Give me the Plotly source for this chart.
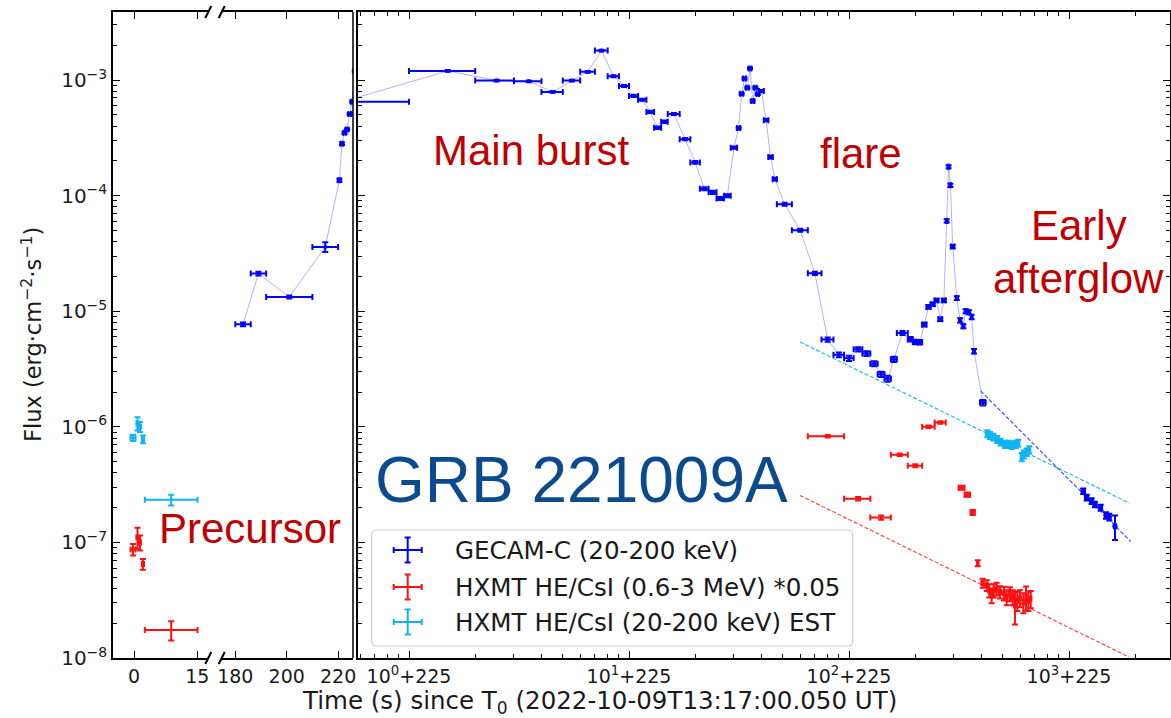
import plotly.graph_objects as go

W, H = 1171, 718

# ---------------------------------------------------------------- data
# GECAM-C (20-200 keV): bin start / stop (s since T0), energy flux, 1-sigma error
gecam_t_lo = [180, 186, 192, 210, 220, 221, 222, 223, 224, 225, 226, 227, 228, 229, 230,
              231, 232, 233, 234, 235, 236, 237, 238, 239, 240, 242, 244, 246, 248, 250,
              252, 254, 256, 257, 258, 259, 260, 261, 262, 263, 264, 266, 268, 270, 272,
              280, 290, 300, 310, 320, 330, 340, 350, 360, 370, 380, 390, 410, 420, 430,
              440, 450, 460, 470, 480, 490, 501, 506, 512, 516, 531, 542, 553, 561, 573,
              583, 592, 619]
gecam_t_hi = [186, 192, 210, 220, 221, 222, 223, 224, 225, 226, 227, 228, 229, 230, 231,
              232, 233, 234, 235, 236, 237, 238, 239, 240, 242, 244, 246, 248, 250, 252,
              254, 256, 257, 258, 259, 260, 261, 262, 263, 264, 266, 268, 270, 272, 280,
              290, 300, 310, 320, 330, 340, 350, 360, 370, 380, 390, 410, 420, 430, 440,
              450, 460, 470, 480, 490, 500, 505, 511, 516, 526, 537, 548, 559, 567, 579,
              589, 598, 643]
gecam_flux = [7.7e-6, 2.12e-5, 1.33e-5, 3.6e-5, 1.36e-4, 2.81e-4, 3.5e-4, 3.74e-4, 5.08e-4,
              6.5e-4, 1.2e-3, 9.9e-4, 9.75e-4, 7.9e-4, 9.9e-4, 1.18e-3, 1.8e-3, 1.08e-3,
              8.9e-4, 7.3e-4, 6.76e-4, 5.3e-4, 3.87e-4, 4.36e-4, 5.08e-4, 3.08e-4, 1.94e-4,
              1.15e-4, 1.07e-4, 9.46e-5, 1.0e-4, 2.6e-4, 3.84e-4, 7.6e-4, 1.03e-3, 8.6e-4,
              1.26e-3, 6.58e-4, 8.6e-4, 7.57e-4, 8.04e-4, 4.5e-4, 2.16e-4, 1.39e-4, 8.43e-5,
              5.02e-5, 2.13e-5, 5.69e-6, 4.2e-6, 3.92e-6, 4.69e-6, 4.3e-6, 3.52e-6, 2.85e-6,
              2.61e-6, 3.84e-6, 6.49e-6, 5.73e-6, 5.43e-6, 5.4e-6, 7.67e-6, 1.09e-5, 1.15e-5,
              1.24e-5, 8.53e-6, 1.24e-5, 6.05e-5, 1.78e-4, 1.23e-4, 3.63e-5, 1.3e-5, 8.36e-6,
              7.41e-6, 1.0e-5, 9.8e-6, 8.93e-6, 4.51e-6, 1.62e-6]
gecam_err = [3e-7, 8e-7, 4e-7, 3.5e-6, 4e-6, 7e-6, 8e-6, 8e-6, 1e-5,
             1.2e-5, 2e-5, 1.8e-5, 1.8e-5, 1.5e-5, 1.8e-5, 2e-5, 3e-5, 2e-5,
             1.7e-5, 1.5e-5, 1.4e-5, 1.2e-5, 1e-5, 1e-5, 1e-5, 7e-6, 5e-6,
             3.5e-6, 3.5e-6, 3e-6, 3e-6, 6e-6, 9e-6, 1.5e-5, 2e-5, 1.7e-5,
             2.2e-5, 1.4e-5, 1.7e-5, 1.5e-5, 1.5e-5, 1e-5, 6e-6, 4e-6, 2.5e-6,
             1.5e-6, 7e-7, 2.5e-7, 2e-7, 2e-7, 2e-7, 2e-7, 1.8e-7, 1.5e-7,
             1.5e-7, 2e-7, 2.5e-7, 2.5e-7, 2.5e-7, 2.5e-7, 3e-7, 4e-7, 4e-7,
             4e-7, 3e-7, 4e-7, 2e-6, 5e-6, 4e-6, 1.2e-6, 5e-7, 3.5e-7,
             3e-7, 4e-7, 4e-7, 4e-7, 2e-7, 9e-8]

# GECAM-C late afterglow segment
tail_t = [1386, 1428, 1492, 1537, 1618, 1698, 1750, 1843]
tail_terr = [20, 20, 20, 20, 20, 20, 20, 20]
tail_flux = [2.78e-7, 2.44e-7, 2.28e-7, 2.13e-7, 2.0e-7, 1.71e-7, 1.66e-7, 1.38e-7]
tail_err = [1.5e-8, 1.4e-8, 1.3e-8, 1.2e-8, 1.2e-8, 1.1e-8, 1.1e-8, 3.3e-8]

# HXMT HE/CsI (0.6-3 MeV) x 0.05
hxmt_hi_t_lo = [-0.85, 0.55, 1.15, 1.85, 2.55, 290, 320, 350, 380, 410, 440, 470, 540, 560,
                582, 607, 625, 643, 654, 665, 675, 689, 706, 726, 741, 759, 775, 788, 802,
                819, 840, 858, 873, 890]
hxmt_hi_t_hi = [0.35, 1.05, 1.65, 2.35, 15.05, 320, 350, 380, 410, 440, 470, 500, 560, 580,
                598, 613, 635, 653, 664, 675, 685, 699, 716, 736, 751, 769, 785, 798, 812,
                829, 850, 868, 883, 900]
hxmt_hi_flux = [8.7e-8, 1.11e-7, 1.0e-7, 6.5e-8, 1.75e-8, 8.28e-7, 2.39e-7, 1.64e-7, 5.74e-7,
                4.61e-7, 1.0e-6, 1.09e-6, 2.97e-7, 2.59e-7, 1.82e-7, 6.62e-8, 4.45e-8, 4.25e-8,
                3.84e-8, 3.47e-8, 3.84e-8, 3.97e-8, 3.72e-8, 3.64e-8, 3.36e-8, 3.6e-8, 3.36e-8,
                2.85e-8, 3.15e-8, 3.3e-8, 3.04e-8, 3.36e-8, 3.15e-8, 3.25e-8]
hxmt_hi_err = [1.0e-8, 2.3e-8, 1.5e-8, 7e-9, 3.3e-9, 2e-8, 8e-9, 7e-9, 1.5e-8,
               1.3e-8, 2.5e-8, 2.5e-8, 1.2e-8, 1.1e-8, 9e-9, 4e-9, 4e-9, 4.5e-9,
               5e-9, 5e-9, 5e-9, 5e-9, 4.5e-9, 5e-9, 5e-9, 5e-9, 5e-9,
               9e-9, 6e-9, 5.5e-9, 6e-9, 8e-9, 6e-9, 5.5e-9]

# HXMT HE/CsI (20-200 keV) estimate
hxmt_lo_t_lo = [-0.85, 0.55, 1.15, 1.85, 2.55, 643.5, 655.5, 671, 690, 707, 730, 748, 767,
                786, 806, 828, 842, 860, 878]
hxmt_lo_t_hi = [0.35, 1.05, 1.65, 2.35, 15.05, 657.5, 669.5, 685, 704, 721, 744, 762, 781,
                800, 820, 842, 856, 874, 892]
hxmt_lo_flux = [8.05e-7, 1.07e-6, 1.0e-6, 7.8e-7, 2.34e-7, 8.73e-7, 8.43e-7, 8.16e-7, 7.8e-7,
                7.39e-7, 7.06e-7, 7.06e-7, 6.92e-7, 7.06e-7, 7.24e-7, 5.48e-7, 5.78e-7,
                6.05e-7, 6.34e-7]
hxmt_lo_err = [5e-8, 1.4e-7, 1.0e-7, 6e-8, 2.5e-8, 6e-8, 6e-8, 5.5e-8, 5.5e-8,
               5e-8, 5e-8, 5e-8, 5e-8, 5e-8, 5e-8, 4.5e-8, 4.5e-8, 4.5e-8, 4.5e-8]

# power-law decay fits (end points)
fit_blue_t, fit_blue_f = [622, 2133], [2.04e-6, 1.02e-7]
fit_cyan_t, fit_cyan_f = [284.9, 2105], [5.42e-6, 2.19e-7]
fit_red_t, fit_red_f = [284.9, 2105], [2.55e-7, 1.016e-8]

T_SHIFT = 225.0  # origin of the logarithmic time axis

legend_labels = ["GECAM-C (20-200 keV)",
                 "HXMT HE/CsI (0.6-3 MeV) *0.05",
                 "HXMT HE/CsI (20-200 keV) EST"]

BLUE = "#0000ff"
RED = "#ff1010"
CYAN = "#10b4f4"

# ---------------------------------------------------------------- helpers
def px(x):
    return x / W


def py(y):
    return 1 - y / H


def binned(t_lo, t_hi, flux, err, color, xa, ya, shift=0.0, size=4):
    c = [(a + b) / 2 for a, b in zip(t_lo, t_hi)]
    return go.Scatter(
        x=[v - shift for v in c], y=flux, mode="markers", xaxis=xa, yaxis=ya,
        marker=dict(color=color, size=size, line=dict(width=0)),
        error_x=dict(type="data", symmetric=False,
                     array=[b - v for b, v in zip(t_hi, c)],
                     arrayminus=[v - a for a, v in zip(t_lo, c)],
                     color=color, thickness=2, width=3),
        error_y=dict(type="data", array=err, color=color, thickness=2, width=3),
        showlegend=False, hoverinfo="skip")


def joined(t_lo, t_hi, flux, xa, ya, shift=0.0):
    c = [(a + b) / 2 - shift for a, b in zip(t_lo, t_hi)]
    return go.Scatter(x=c, y=flux, mode="lines", xaxis=xa, yaxis=ya,
                      line=dict(color="rgba(40,40,255,0.45)", width=0.8),
                      showlegend=False, hoverinfo="skip")


def fit_line(t, f, color, xa, ya, shift=0.0):
    return go.Scatter(x=[v - shift for v in t], y=f, mode="lines", xaxis=xa, yaxis=ya,
                      line=dict(color=color, width=1.2, dash="4px,2px"),
                      showlegend=False, hoverinfo="skip")


tail_lo = [t - e for t, e in zip(tail_t, tail_terr)]
tail_hi = [t + e for t, e in zip(tail_t, tail_terr)]

fig = go.Figure()

# left panel (two linear pieces) and right panel (log of t - 225)
panels = [("x", "y", 0.0), ("x2", "y", 0.0), ("x3", "y2", T_SHIFT)]
for xa, ya, sh in panels:
    fig.add_trace(joined(gecam_t_lo, gecam_t_hi, gecam_flux, xa, ya, sh))
    fig.add_trace(joined(tail_lo, tail_hi, tail_flux, xa, ya, sh))
    if xa == "x3":
        fig.add_trace(fit_line(fit_cyan_t, fit_cyan_f, "rgba(16,180,244,0.9)", xa, ya, sh))
        fig.add_trace(fit_line(fit_red_t, fit_red_f, "rgba(255,40,40,0.85)", xa, ya, sh))
        fig.add_trace(fit_line(fit_blue_t, fit_blue_f, "rgba(40,40,230,0.8)", xa, ya, sh))
    fig.add_trace(binned(hxmt_lo_t_lo, hxmt_lo_t_hi, hxmt_lo_flux, hxmt_lo_err, CYAN, xa, ya, sh, 3))
    fig.add_trace(binned(hxmt_hi_t_lo, hxmt_hi_t_hi, hxmt_hi_flux, hxmt_hi_err, RED, xa, ya, sh, 3))
    fig.add_trace(binned(gecam_t_lo, gecam_t_hi, gecam_flux, gecam_err, BLUE, xa, ya, sh, 4))
    fig.add_trace(binned(tail_lo, tail_hi, tail_flux, tail_err, BLUE, xa, ya, sh, 5))

# ---------------------------------------------------------------- axes
TICK_FONT = dict(family="DejaVu Sans", size=19, color="#1a1a1a")
base = dict(showline=True, linecolor="black", linewidth=1.5, ticks="inside",
            tickcolor="black", tickwidth=1.2, ticklen=7, showgrid=False,
            zeroline=False, tickfont=TICK_FONT)
minor = dict(ticks="inside", ticklen=4, tickcolor="black", tickwidth=1,
             dtick="D1", showgrid=False)

y_top, y_bot = 12, 658
ydom = [py(y_bot), py(y_top)]
yrange = [-8, -2.411]
ytick_vals = [1e-8, 1e-7, 1e-6, 1e-5, 1e-4, 1e-3]
ytick_text = ["10<sup>\u22128</sup>", "10<sup>\u22127</sup>", "10<sup>\u22126</sup>",
              "10<sup>\u22125</sup>", "10<sup>\u22124</sup>", "10<sup>\u22123</sup>"]

fig.update_layout(
    width=W, height=H, autosize=False,
    margin=dict(l=0, r=0, t=0, b=0, pad=0, autoexpand=False),
    paper_bgcolor="white", plot_bgcolor="rgba(0,0,0,0)",
    showlegend=False,
    xaxis=dict(base, domain=[px(113), px(208.3)], range=[-5, 17.6], anchor="y",
               mirror="ticks", tickvals=[0, 15], ticktext=["0", "15"]),
    xaxis2=dict(base, domain=[px(221.7), px(353)], range=[174.7, 225.8], anchor="y",
                mirror="ticks", tickvals=[180, 200, 220], ticktext=["180", "200", "220"]),
    xaxis3=dict(base, type="log", domain=[px(358), px(1169.5)], range=[-0.2318, 3.4568],
                anchor="y2", mirror="ticks", tickvals=[1, 10, 100, 1000],
                ticktext=["10<sup>0</sup>+225", "10<sup>1</sup>+225",
                          "10<sup>2</sup>+225", "10<sup>3</sup>+225"],
                minor=minor),
    yaxis=dict(base, type="log", domain=ydom, range=yrange, anchor="x",
               tickvals=ytick_vals, ticktext=ytick_text,
               tickfont=dict(family="DejaVu Sans", size=20, color="#1a1a1a"),
               minor=minor),
    yaxis2=dict(base, type="log", domain=ydom, range=yrange, anchor="x3",
                mirror="ticks", showticklabels=False, tickvals=ytick_vals,
                minor=minor),
)

# ---------------------------------------------------------------- frame pieces
shapes = []
# right spine of the left panel
shapes.append(dict(type="line", xref="paper", yref="paper", x0=px(353), x1=px(353),
                   y0=py(y_bot), y1=py(y_top), line=dict(color="black", width=1.5)))
# broken-axis marks
for yy in (y_top, y_bot):
    for xx in (208.3, 221.7):
        shapes.append(dict(type="line", xref="paper", yref="paper",
                           x0=px(xx - 3), x1=px(xx + 3), y0=py(yy + 6), y1=py(yy - 6),
                           line=dict(color="black", width=2)))

# legend box with rounded corners
lx0, lx1, ly0, ly1, r = 371.7, 852.7, 530, 646, 5
rx, ry = r / W, r / H
path = (f"M {px(lx0)+rx},{py(ly0)} L {px(lx1)-rx},{py(ly0)} "
        f"Q {px(lx1)},{py(ly0)} {px(lx1)},{py(ly0)-ry} "
        f"L {px(lx1)},{py(ly1)+ry} Q {px(lx1)},{py(ly1)} {px(lx1)-rx},{py(ly1)} "
        f"L {px(lx0)+rx},{py(ly1)} Q {px(lx0)},{py(ly1)} {px(lx0)},{py(ly1)+ry} "
        f"L {px(lx0)},{py(ly0)-ry} Q {px(lx0)},{py(ly0)} {px(lx0)+rx},{py(ly0)} Z")
shapes.append(dict(type="path", xref="paper", yref="paper", path=path,
                   fillcolor="rgba(255,255,255,0.85)", line=dict(color="#cfcfcf", width=1.2)))

legend_rows = [550, 587, 622]
legend_colors = [BLUE, RED, CYAN]
cx, hw, hh, cap = 407.7, 14, 12.5, 3
for yc, col in zip(legend_rows, legend_colors):
    seg = [((cx - hw, yc), (cx + hw, yc)), ((cx, yc - hh), (cx, yc + hh)),
           ((cx - hw, yc - cap), (cx - hw, yc + cap)), ((cx + hw, yc - cap), (cx + hw, yc + cap)),
           ((cx - cap, yc - hh), (cx + cap, yc - hh)), ((cx - cap, yc + hh), (cx + cap, yc + hh))]
    for (a, b) in seg:
        shapes.append(dict(type="line", xref="paper", yref="paper",
                           x0=px(a[0]), y0=py(a[1]), x1=px(b[0]), y1=py(b[1]),
                           line=dict(color=col, width=2)))
fig.update_layout(shapes=shapes)

# ---------------------------------------------------------------- texts
ann = []


def txt(s, x, y, size, color, family="Liberation Sans, Arial, sans-serif",
        xanchor="center", angle=0):
    ann.append(dict(text=s, x=px(x), y=py(y), xref="paper", yref="paper",
                    showarrow=False, xanchor=xanchor, yanchor="middle", textangle=angle,
                    font=dict(family=family, size=size, color=color)))


txt("Flux (erg\u00b7cm<sup>\u22122</sup>\u00b7s<sup>\u22121</sup>)", 31, 335, 22.5, "#1a1a1a",
    family="DejaVu Sans", angle=-90)
txt("Time (s) since T<sub>0</sub> (2022-10-09T13:17:00.050 UT)", 599, 701.5, 24.5, "#1a1a1a",
    family="DejaVu Sans")

DARK_RED = "#c00000"
txt("Main burst", 530.5, 151, 42, DARK_RED)
txt("flare", 861, 153.4, 42, DARK_RED)
txt("Early", 1079, 225.4, 42, DARK_RED)
txt("afterglow", 1078, 278.1, 42, DARK_RED)
txt("Precursor", 249.5, 528.7, 42, DARK_RED)
txt("GRB 221009A", 581, 479.5, 64, "#0b4a8c")

for yc, lab in zip(legend_rows, legend_labels):
    txt(lab, 453, yc, 24.6, "#1a1a1a", family="DejaVu Sans", xanchor="left")

fig.update_layout(annotations=ann)

# page without default body margins so the figure sits flush in the window
page_css = ("document.documentElement.style.margin='0';"
            "document.documentElement.style.padding='0';"
            "document.body.style.margin='0';"
            "document.body.style.padding='0';"
            "document.documentElement.style.overflow='hidden';"
            "document.body.style.overflow='hidden';")
fig.write_html("out.html", post_script=page_css)
